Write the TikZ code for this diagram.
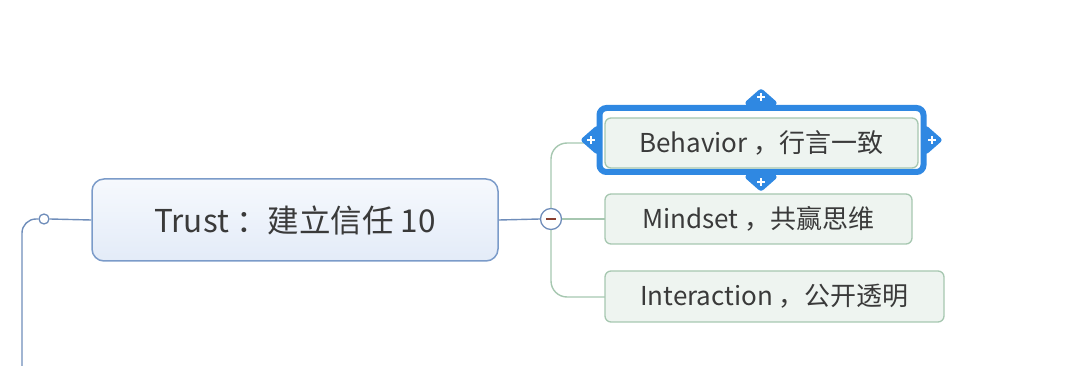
\documentclass[tikz,border=0pt]{standalone}
\usepackage{fontspec}
\setmainfont{Noto Sans CJK SC}
\usetikzlibrary{shapes.geometric}
\definecolor{mainborder}{HTML}{7B9BC9}
\definecolor{mainfillT}{HTML}{F6F9FD}
\definecolor{mainfillB}{HTML}{E3EBF8}
\definecolor{leftline}{HTML}{6F8DBA}
\definecolor{childborder}{HTML}{A6C7B0}
\definecolor{childfill}{HTML}{EEF4F0}
\definecolor{greenline}{HTML}{A6C7B0}
\definecolor{selblue}{HTML}{2F88E2}
\definecolor{txt}{HTML}{3A3A3A}
\definecolor{minuscol}{HTML}{8A4030}
\tikzset{
  mainbox/.style={draw=mainborder, line width=1.5pt, rounded corners=12pt, top color=mainfillT, bottom color=mainfillB, minimum width=406pt, minimum height=82pt, text=txt, font=\fontsize{31.5}{34}\selectfont, inner sep=0pt},
  childbox/.style={draw=childborder, line width=1.3pt, rounded corners=6pt, fill=childfill, minimum height=50pt, text=txt, font=\fontsize{26}{28}\selectfont, inner sep=0pt},
  bluelink/.style={draw=leftline, line width=1.4pt},
  greenlink/.style={draw=greenline, line width=1.4pt},
  tab/.style={diamond, fill=selblue, minimum width=34pt, minimum height=30pt, inner sep=0pt, rounded corners=3pt},
  plussign/.style={draw=white, line width=2pt}
}
\begin{document}
\begin{tikzpicture}[x=1pt,y=-1pt]
\useasboundingbox (0,0) rectangle (1080,366);
% left connector
\node[circle, draw=leftline, line width=1.3pt, fill=white, minimum size=10pt, inner sep=0pt] (lc) at (44,219) {};
\coordinate (ldown) at (22,366);
\draw[bluelink, rounded corners=14pt] (lc.west) -- (22,219) -- (ldown);
% main node
\node[mainbox] (main) at (295,220) {Trust ：建立信任 10};
\draw[bluelink] (lc.east) -- (main.west);
% minus circle
\node[circle, draw=leftline, line width=1.3pt, fill=white, minimum size=21pt, inner sep=0pt] (minus) at (551,219) {};
\draw[bluelink] (main.east) -- (minus.west);
\draw[draw=minuscol, line width=1.6pt] ([xshift=-5pt]minus.center) -- ([xshift=5pt]minus.center);
% children positions
\coordinate (behW) at (605,143);
% connectors
\draw[greenlink, rounded corners=16pt] (minus.north) -- (551,143) -- (behW);
\draw[greenlink, rounded corners=16pt] (minus.south) -- (551,297) -- (605,297);
\draw[greenlink] (minus.east) -- (605,219);
% selection frame
\node[tab] (tl) at (597,140) {};
\node[tab] (tr) at (926,140) {};
\node[tab] (tt) at (761,103) {};
\node[tab] (tb) at (761,177) {};
\node[draw=selblue, line width=6pt, fill=white, rounded corners=7pt, minimum width=324pt, minimum height=64pt, inner sep=0pt] (sel) at (761.5,140) {};
\foreach \t/\dx/\dy in {tl/-6/0,tr/6/0,tt/0/-6,tb/0/5}{
  \draw[plussign] ([xshift=\dx pt-4pt,yshift=-\dy pt]\t.center) -- ([xshift=\dx pt+4pt,yshift=-\dy pt]\t.center);
  \draw[plussign] ([xshift=\dx pt,yshift=-\dy pt-4pt]\t.center) -- ([xshift=\dx pt,yshift=-\dy pt+4pt]\t.center);
}
% child nodes
\node[childbox, minimum width=313pt] (beh) at (761.5,143) {Behavior ，行言一致};
\node[childbox, minimum width=307pt] (mind) at (758.5,219) {Mindset ，共赢思维};
\node[childbox, minimum width=339pt, minimum height=51pt] (inter) at (774.5,296.5) {Interaction ，公开透明};
\end{tikzpicture}
\end{document}
